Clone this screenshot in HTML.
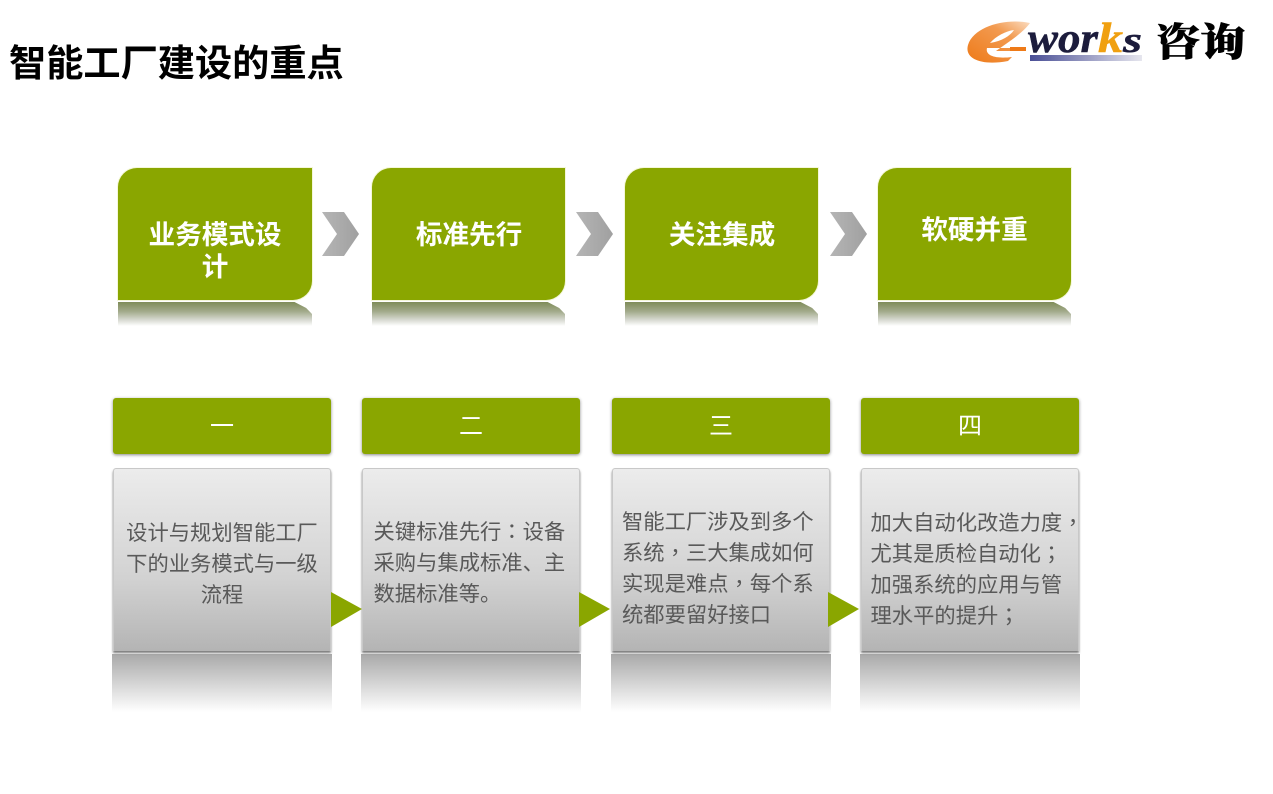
<!DOCTYPE html>
<html lang="zh"><head><meta charset="utf-8"><style>
html,body{margin:0;padding:0;background:#fff}
#p{position:relative;width:1273px;height:794px;overflow:hidden;background:#fff;font-family:"Liberation Sans","Noto Sans CJK SC",sans-serif}
#p div{position:absolute;box-sizing:border-box}
.card{width:193px;height:132px;top:168px;background:#8aa600;border-radius:19px 0 19px 0;box-shadow:0 0 0 1px #f4f7d8}
.rf{width:193px;height:24px;top:302px;background:linear-gradient(#7f8c58,#a3ab8c 40%,#d8dad2 75%,#fff);clip-path:polygon(0 0,91% 0,97% 25%,100% 50%,100% 100%,0 100%)}
.ct{width:194px;color:#fff;font-weight:700;font-size:26.6px;line-height:32px;text-align:center;white-space:nowrap}
.h{width:218px;height:56px;top:398px;background:#8aa600;border-radius:3px;box-shadow:0 1px 3px #888;color:#fff;font-size:24px;line-height:57px;text-align:center}
.b{width:218px;height:183px;top:468px;background:linear-gradient(#ececec,#d2d2d2 60%,#b4b4b4);border:1px solid #c8c8c8;border-bottom:0;border-radius:3px 3px 0 0;box-shadow:0 2px 2px #7a7a7a}
.r{width:220px;height:58px;top:654px;background:linear-gradient(#a9a9a9,#d8d8d8 55%,#fff)}
.t{color:#595959;font-size:21.3px;line-height:31px;white-space:nowrap}
.t span{font-family:"Noto Sans CJK TC",sans-serif;line-height:0}
</style></head><body><div id="p">
<div style="left:9px;top:38px;font-size:37.2px;line-height:50px;font-weight:700;color:#000;white-space:nowrap">智能工厂建设的重点</div>

<svg style="position:absolute;left:960px;top:10px" width="300" height="60" viewBox="0 0 300 60">
<defs><linearGradient id="g" x1="0" x2="1"><stop offset="0" stop-color="#4a4f96"/><stop offset="1" stop-color="#e6e6ee"/></linearGradient>
<linearGradient id="o" x1="0" x2="1" y1="1" y2="0"><stop offset="0" stop-color="#ee7a18"/><stop offset=".65" stop-color="#f29a50"/><stop offset="1" stop-color="#fbdcc0"/></linearGradient></defs>
<path d="M70 13C46 8 14 16 8 35C4 49 22 56 48 51L52 47C36 49 25 46 27 38L52 38L50 41L36 41C48 32 62 24 70 13Z" fill="url(#o)"/>
<path d="M30 33C36 26 46 21 54 20C50 26 42 31 30 33Z" fill="#fff"/>
<rect x="50" y="37" width="16" height="4" fill="#ee7a18"/>
<rect x="70" y="45" width="112" height="6" fill="url(#g)"/>
<text x="68" y="42" font-family="Liberation Serif" font-weight="700" font-style="italic" font-size="42" fill="#1c1c3c" textLength="70" lengthAdjust="spacingAndGlyphs" stroke="#1c1c3c" stroke-width=".5">wor</text>
<text x="138" y="42" font-family="Liberation Serif" font-weight="700" font-style="italic" font-size="42" fill="#f0a010" textLength="25" lengthAdjust="spacingAndGlyphs" stroke="#f0a010" stroke-width=".5">k</text>
<text x="163" y="42" font-family="Liberation Serif" font-weight="700" font-style="italic" font-size="36" fill="#1c1c3c" textLength="19" lengthAdjust="spacingAndGlyphs" stroke="#1c1c3c" stroke-width=".5">s</text>
<text x="195" y="46" font-family="Noto Serif CJK SC" font-weight="900" font-size="39" fill="#000" textLength="90" lengthAdjust="spacingAndGlyphs" stroke="#000" stroke-width=".6">咨询</text>
</svg>

<div class="rf" style="left:118px;width:194px"></div><div class="rf" style="left:372px"></div><div class="rf" style="left:625px"></div><div class="rf" style="left:878px"></div>
<div class="card" style="left:118px;width:194px"></div><div class="card" style="left:372px"></div><div class="card" style="left:625px"></div><div class="card" style="left:878px"></div>
<div class="ct" style="left:118px;top:219px">业务模式设<br>计</div>
<div class="ct" style="left:372px;top:219px">标准先行</div>
<div class="ct" style="left:625px;top:219px">关注集成</div>
<div class="ct" style="left:877.5px;top:214px">软硬并重</div>

<svg style="position:absolute;left:0;top:0" width="1273" height="794">
<defs><linearGradient id="c" x1="0" x2="1"><stop offset="0" stop-color="#b5b5b5"/><stop offset="1" stop-color="#a0a0a0"/></linearGradient></defs>
<g fill="url(#c)">
<polygon points="322,212 344,212 359,234 344,256 322,256 337,234"/>
<polygon points="576,212 598,212 613,234 598,256 576,256 591,234"/>
<polygon points="830,212 852,212 867,234 852,256 830,256 845,234"/>
</g></svg>

<div class="r" style="left:112px"></div><div class="r" style="left:361px"></div><div class="r" style="left:611px"></div><div class="r" style="left:860px"></div>
<div class="h" style="left:113px">一</div><div class="h" style="left:362px">二</div><div class="h" style="left:612px">三</div><div class="h" style="left:861px">四</div>
<div class="b" style="left:113px"></div><div class="b" style="left:362px"></div><div class="b" style="left:612px"></div><div class="b" style="left:861px"></div>

<svg style="position:absolute;left:0;top:0" width="1273" height="794">
<g fill="#8aa600">
<polygon points="331,592 362,609 331,627"/>
<polygon points="579,592 610,609 579,627"/>
<polygon points="828,592 859,609 828,627"/>
</g></svg>

<div class="t" style="left:113px;width:218px;top:518px;text-align:center">设计与规划智能工厂<br>下的业务模式与一级<br>流程</div>
<div class="t" style="left:373.5px;top:517px">关键标准先行<span lang="zh-TW">：</span>设备<br>采购与集成标准、主<br>数据标准等。</div>
<div class="t" style="left:622px;top:507px">智能工厂涉及到多个<br>系统<span lang="zh-TW">，</span>三大集成如何<br>实现是难点<span lang="zh-TW">，</span>每个系<br>统都要留好接口</div>
<div class="t" style="left:870.5px;top:508px">加大自动化改造力度<span lang="zh-TW">，</span><br>尤其是质检自动化<span lang="zh-TW">；</span><br>加强系统的应用与管<br>理水平的提升<span lang="zh-TW">；</span></div>
</div></body></html>
